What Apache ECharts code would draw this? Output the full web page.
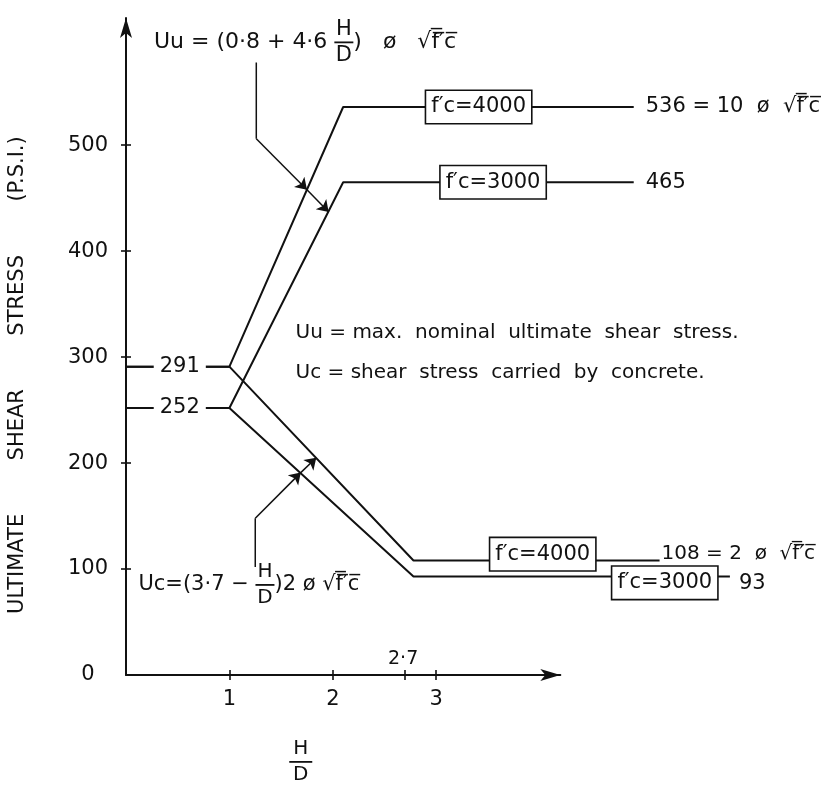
<!DOCTYPE html>
<html>
<head>
<meta charset="utf-8">
<script src="https://cdn.jsdelivr.net/npm/echarts@6/dist/echarts.min.js"></script>
<style>
html, body { margin: 0; background: #fff; }
#chart { width: 824px; height: 787px; }
</style>
</head>
<body>
<div id="chart"></div>
<script>
var FONT = 'DejaVu Sans';
var INK = '#111';

// break points of each curve: [H/D, shear stress in psi]
var uu4000 = [[0, 291], [1, 291], [2.1, 536], [4.91, 536]];
var uu3000 = [[0, 252], [1, 252], [2.1, 465], [4.91, 465]];
var uc4000 = [[0, 291], [1, 291], [2.78, 108], [5.16, 108]];
var uc3000 = [[0, 252], [1, 252], [2.78, 93], [5.84, 93]];

var yLabels = [0, 100, 200, 300, 400, 500];
var yMarks = [100, 200, 300, 400, 500];
var xLabels = [1, 2, 3];
var xMarks = [1, 2, 2.7, 3];
var xMax = 6.75;      // plot width, the curves run past the drawn axis
var xAxisEnd = 4.2;   // where the drawn H/D axis stops (arrow tip)

// leaders from the two formulas to the curves
var uuLeader = [[1.26, 578], [1.26, 506]];
var uuArrows = [[[1.26, 506], [1.75, 458]], [[1.75, 458], [1.96, 437]]];
var ucLeader = [[1.25, 102], [1.25, 148]];
var ucArrows = [[[1.25, 148], [1.69, 191]], [[1.69, 191], [1.84, 205]]];

var ROOT = '√f\u0305\u2032\u0305c\u0305';

var ctx = document.createElement('canvas').getContext('2d');
function textWidth(s, size) {
    ctx.font = size + 'px "' + FONT + '"';
    return ctx.measureText(s).width;
}

// text with an H over D fraction in the middle
function fraction(pre, post, size) {
    var barW = 19;
    var w = textWidth(pre, size);
    return {
        formatter: '{sh| }{fr|H}\n{m|' + pre + '}{bar| }{m|' + post + '}\n{sd| }{fr|D}',
        position: 'right', distance: 0,
        rich: {
            sh: { width: w + (barW - textWidth('H', size - 1)) / 2, lineHeight: 18 },
            sd: { width: w + (barW - textWidth('D', size - 1)) / 2, lineHeight: 18 },
            fr: { fontSize: size - 1, lineHeight: 18, color: INK, fontFamily: FONT },
            m: { fontSize: size, lineHeight: 8, color: INK, fontFamily: FONT },
            bar: { width: barW, height: 1.8, backgroundColor: INK }
        }
    };
}

function boxed(text) {
    return {
        formatter: text, position: 'inside', fontSize: 21,
        backgroundColor: '#fff', borderColor: INK, borderWidth: 1.6, padding: [6, 5, 5, 5]
    };
}

var notes = [
    { value: [0.52, 291], label: { formatter: '291', position: 'inside', backgroundColor: '#fff', padding: [2, 6], fontSize: 21 } },
    { value: [0.52, 252], label: { formatter: '252', position: 'inside', backgroundColor: '#fff', padding: [2, 6], fontSize: 21 } },
    { value: [3.41, 536], label: boxed('f′c=4000') },
    { value: [3.55, 465], label: boxed('f′c=3000') },
    { value: [4.03, 114], label: boxed('f′c=4000') },
    { value: [5.21, 87], label: boxed('f′c=3000') },
    { value: [4.91, 536], label: { formatter: '536 = 10  ø  ' + ROOT, position: 'right', distance: 12, fontSize: 21 } },
    { value: [4.91, 465], label: { formatter: '465', position: 'right', distance: 12, fontSize: 21 } },
    { value: [5.16, 114], label: { formatter: '108 = 2  ø  ' + ROOT, position: 'right', distance: 2, fontSize: 20 } },
    { value: [5.84, 86], label: { formatter: '93', position: 'right', distance: 9, fontSize: 21 } },
    { value: [1.64, 323], label: { formatter: 'Uu = max.  nominal  ultimate  shear  stress.', position: 'right', distance: 0, fontSize: 20 } },
    { value: [1.64, 285], label: { formatter: 'Uc = shear  stress  carried  by  concrete.', position: 'right', distance: 0, fontSize: 20 } },
    { value: [2.68, 15], label: { formatter: '2·7', position: 'inside', fontSize: 19 } },
    { value: [0.27, 597], label: fraction('Uu = (0·8 + 4·6 ', ')   ø   ' + ROOT, 22) },
    { value: [0.12, 85], label: fraction('Uc=(3·7 − ', ')2 ø ' + ROOT, 21) },
    { value: [1.69, -82], label: {
        formatter: '{fr|H}\n{bar| }\n{fr|D}', position: 'inside',
        rich: {
            fr: { align: 'center', fontSize: 20, lineHeight: 20, color: INK, fontFamily: FONT },
            bar: { align: 'center', width: 23, height: 1.8, lineHeight: 6, backgroundColor: INK }
        }
    } },
    { value: [-1.05, 283], label: {
        formatter: 'ULTIMATE        SHEAR        STRESS        (P.S.I.)',
        position: 'inside', rotate: 90, fontSize: 21
    } }
];

function curve(name, data) {
    return {
        name: name, type: 'line', data: data, symbol: 'none', clip: false, z: 3,
        lineStyle: { color: INK, width: 2 }
    };
}

var tickStyle = { color: INK, width: 1.6 };
var arrowLine = { show: true, onZero: false, symbol: ['none', 'arrow'], symbolSize: [9, 20], lineStyle: { color: INK, width: 2 } };

var option = {
    animation: false,
    backgroundColor: '#fff',
    textStyle: { fontFamily: FONT, color: INK },
    grid: [
        { left: 126, right: 0, top: 18, bottom: 112 },
        // second grid only carries the visible H/D axis with its arrow
        { left: 126, right: 824 - 126 - 698 * xAxisEnd / xMax, top: 18, bottom: 112 }
    ],
    xAxis: [{
        type: 'value', min: 0, max: xMax, splitLine: { show: false },
        axisLine: { show: false },
        axisTick: { show: true, customValues: xMarks, length: 5, lineStyle: tickStyle },
        axisLabel: { customValues: xLabels, margin: 14, fontSize: 21, color: INK, fontFamily: FONT }
    }, {
        type: 'value', min: 0, max: xMax, position: 'bottom', splitLine: { show: false },
        axisLine: { show: false },
        axisTick: { show: true, inside: true, customValues: xMarks, length: 5, lineStyle: tickStyle },
        axisLabel: { show: false }
    }, {
        gridIndex: 1, type: 'value', min: 0, max: xAxisEnd, position: 'bottom', z: 2,
        splitLine: { show: false }, axisLine: arrowLine,
        axisTick: { show: false }, axisLabel: { show: false }
    }],
    yAxis: [{
        type: 'value', min: 0, max: 620, splitLine: { show: false },
        axisLine: arrowLine,
        axisTick: { show: true, customValues: yMarks, length: 5, lineStyle: tickStyle },
        axisLabel: { customValues: yLabels, margin: 38, align: 'center', fontSize: 21, color: INK, fontFamily: FONT }
    }, {
        type: 'value', min: 0, max: 620, position: 'left', splitLine: { show: false },
        axisLine: { show: false },
        axisTick: { show: true, inside: true, customValues: yMarks, length: 5, lineStyle: tickStyle },
        axisLabel: { show: false }
    }, {
        gridIndex: 1, type: 'value', min: 0, max: 620, show: false
    }],
    series: [
        curve('Uu 4000', uu4000),
        curve('Uu 3000', uu3000),
        curve('Uc 4000', uc4000),
        curve('Uc 3000', uc3000),
        {
            type: 'lines', coordinateSystem: 'cartesian2d', polyline: true, z: 3,
            data: [{ coords: uuLeader }, { coords: ucLeader }],
            lineStyle: { color: INK, width: 1.5, opacity: 1 }
        },
        {
            type: 'lines', coordinateSystem: 'cartesian2d', z: 3,
            symbol: ['none', 'arrow'], symbolSize: 11,
            data: uuArrows.concat(ucArrows).map(function (c) { return { coords: c }; }),
            lineStyle: { color: INK, width: 1.5, opacity: 1 }
        },
        {
            type: 'scatter', symbolSize: 0, clip: false, z: 5, silent: true,
            itemStyle: { opacity: 1 },
            label: { show: true, color: INK, fontFamily: FONT, fontSize: 20 },
            data: notes
        }
    ]
};

var chart = echarts.init(document.getElementById('chart'));
chart.setOption(option);
</script>
</body>
</html>
